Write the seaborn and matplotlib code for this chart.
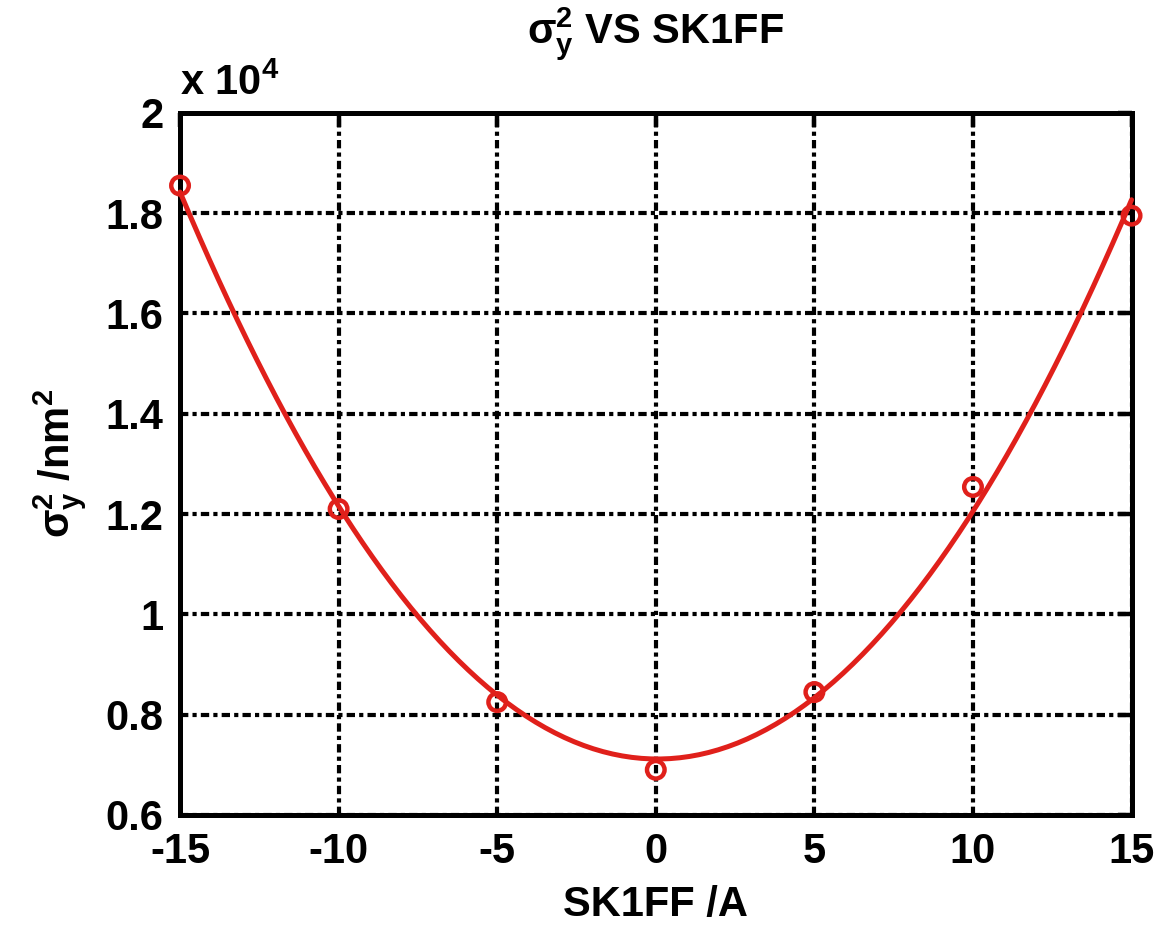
import matplotlib
matplotlib.use("Agg")
import matplotlib.pyplot as plt
import seaborn as sns
import numpy as np
import pandas as pd
from matplotlib.ticker import FuncFormatter

# ---- data ----
sk1ff = [-15, -10, -5, 0, 5, 10, 15]
sigma_y2 = [18550, 12100, 8250, 6900, 8450, 12540, 17950]
x_ticks = [-15, -10, -5, 0, 5, 10, 15]
y_ticks = [6000, 8000, 10000, 12000, 14000, 16000, 18000, 20000]

df = pd.DataFrame({"x": sk1ff, "y": sigma_y2})

sns.set_style("white")
plt.rcParams['font.family'] = ['Liberation Sans', 'DejaVu Sans']
plt.rcParams['font.weight'] = 'bold'
plt.rcParams['text.color'] = 'black'
plt.rcParams['axes.labelcolor'] = 'black'
plt.rcParams['xtick.color'] = 'black'
plt.rcParams['ytick.color'] = 'black'
plt.rcParams['axes.unicode_minus'] = False
plt.rcParams['mathtext.fontset'] = 'custom'
plt.rcParams['mathtext.rm'] = 'Liberation Sans:bold'
plt.rcParams['mathtext.it'] = 'Liberation Sans:bold'
plt.rcParams['mathtext.bf'] = 'Liberation Sans:bold'
plt.rcParams['mathtext.default'] = 'rm'

red = '#E0201B'
fig = plt.figure(figsize=(11.57, 9.25), dpi=100)
ax = fig.add_axes([0.1556, 0.119, 0.8224, 0.759])

sns.regplot(data=df, x="x", y="y", order=2, ci=None, scatter=False, ax=ax,
            line_kws=dict(color=red, lw=3.6, zorder=3, clip_on=False))
sns.scatterplot(data=df, x="x", y="y", ax=ax, marker='o', s=160,
                facecolor='none', edgecolor=red, linewidth=3.2, zorder=4,
                clip_on=False, legend=False)

ax.set_xlim(-15, 15)
ax.set_ylim(6000, 20000)
ax.set_xticks(x_ticks)
ax.set_yticks(y_ticks)
ax.yaxis.set_major_formatter(FuncFormatter(lambda v, p: '%g' % (v / 1e4)))

ax.grid(True, color='black', linestyle=(0, (2, 1, 1, 1)), linewidth=3.0)
ax.set_axisbelow(True)
for s in ax.spines.values():
    s.set_visible(True)
    s.set_color('black')
    s.set_linewidth(3.6)

ax.tick_params(axis='both', which='major', direction='in', length=10, width=3.2,
               labelsize=30, pad=12, top=True, right=True, colors='black')
for lab in ax.get_xticklabels() + ax.get_yticklabels():
    lab.set_fontweight('bold')
    lab.set_color('black')

ax.set_xlabel('SK1FF /A', fontsize=30, fontweight='bold', labelpad=10, color='black')
ax.set_ylabel(r'$\sigma_y^2$ /nm$^2$', fontsize=30, fontweight='bold', labelpad=12, color='black')
ax.set_title(r'$\sigma_y^2$ VS SK1FF', fontsize=30, fontweight='bold', pad=50, color='black')
ax.text(0.0, 1.012, r'x 10$^4$', transform=ax.transAxes, fontsize=30,
        fontweight='bold', ha='left', va='bottom', color='black')

fig.savefig('out.png', dpi=100)
